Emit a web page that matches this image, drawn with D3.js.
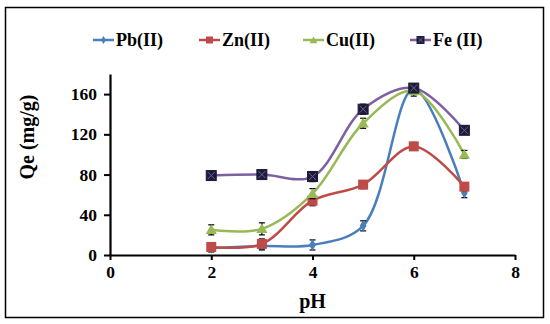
<!DOCTYPE html>
<html>
<head>
<meta charset="utf-8">
<script src="https://cdn.jsdelivr.net/npm/d3@7"></script>
<style>
  body { margin: 0; background: #fff; }
  svg text { font-family: 'Liberation Serif', 'Times New Roman', Times, serif; font-weight: bold; fill: #000; }
</style>
</head>
<body>
<div id="chart"></div>
<script>
// pH values and adsorption capacity per metal ion
const ph = [2, 3, 4, 5, 6, 7];
const pb = [7, 9, 10, 29, 165, 62];
const zn = [8, 11, 54, 70, 108, 68];
const cu = [25, 26, 61, 131, 163, 100];
const fe = [79, 80, 78, 145, 166, 124];
const pbErr = [4, 4, 5, 5, 4, 5];
const znErr = [4, 5, 5, 4, 4, 4];
const cuErr = [5, 6, 5, 5, 5, 4];
const feErr = [4, 4, 5, 5, 4, 4];
const xTicks = [0, 2, 4, 6, 8];
const yTicks = [0, 40, 80, 120, 160];

const series = [
  { name: 'Pb(II)', values: pb, err: pbErr, color: '#4a7ebb', marker: 'diamond' },
  { name: 'Zn(II)', values: zn, err: znErr, color: '#be4b48', marker: 'square' },
  { name: 'Cu(II)', values: cu, err: cuErr, color: '#98b954', marker: 'triangle' },
  { name: 'Fe (II)', values: fe, err: feErr, color: '#7d60a0', marker: 'cross' }
];

const FONT = "'Liberation Serif', 'Times New Roman', Times, serif";
const W = 550, H = 324;
const svg = d3.select('#chart').append('svg').attr('width', W).attr('height', H)
  .attr('font-family', FONT);

// outer frame
svg.append('rect')
  .attr('x', 5.5).attr('y', 7.5).attr('width', 538).attr('height', 310)
  .attr('fill', 'none').attr('stroke', '#000').attr('stroke-width', 1.5);

const x = d3.scaleLinear().domain([0, 8]).range([110, 515]);
const y = d3.scaleLinear().domain([0, 180]).range([255, 74]);

// axes
const xAxis = svg.append('g')
  .attr('transform', `translate(0, ${y(0)})`)
  .call(d3.axisBottom(x).tickValues(xTicks).tickSize(5).tickPadding(6).tickSizeOuter(0));
const yAxis = svg.append('g')
  .attr('transform', `translate(${x(0)}, 0)`)
  .call(d3.axisLeft(y).tickValues(yTicks).tickSize(6).tickPadding(7).tickSizeOuter(0));

[xAxis, yAxis].forEach((g) => {
  g.attr('font-family', FONT).attr('font-size', 17.5);
  g.select('.domain').attr('stroke', '#000').attr('stroke-width', 2.2);
  g.selectAll('.tick line').attr('stroke', '#000').attr('stroke-width', 2);
  g.selectAll('.tick text').attr('fill', '#000').attr('font-weight', 'bold');
});

svg.append('text').attr('x', x(4)).attr('y', 308).attr('text-anchor', 'middle')
  .attr('font-size', 20).attr('font-weight', 'bold').text('pH');
svg.append('text').attr('transform', `translate(34, 137) rotate(-90)`)
  .attr('text-anchor', 'middle').attr('font-size', 20).attr('font-weight', 'bold').text('Qe (mg/g)');

const line = d3.line().curve(d3.curveCatmullRom.alpha(0.5))
  .x((d, i) => x(ph[i])).y((d) => y(d));

function drawMarker(g, type, color, cx, cy, k) {
  const h = 5 * k;
  if (type === 'diamond') {
    g.append('path').attr('d', d3.symbol(d3.symbolDiamond, 40 * k * k)())
      .attr('transform', `translate(${cx}, ${cy})`).attr('fill', color);
  } else if (type === 'square') {
    g.append('rect').attr('x', cx - h).attr('y', cy - h).attr('width', 2 * h).attr('height', 2 * h)
      .attr('fill', color);
  } else if (type === 'triangle') {
    g.append('path').attr('d', d3.symbol(d3.symbolTriangle, 55 * k * k)())
      .attr('transform', `translate(${cx}, ${cy + 1})`).attr('fill', color);
  } else {
    g.append('rect').attr('x', cx - h).attr('y', cy - h).attr('width', 2 * h).attr('height', 2 * h)
      .attr('fill', '#1d1b3a').attr('stroke', '#1d1b3a');
    const c = h * 0.7;
    g.append('path')
      .attr('d', `M${cx - c},${cy - c}L${cx + c},${cy + c}M${cx + c},${cy - c}L${cx - c},${cy + c}`)
      .attr('stroke', '#6f6390').attr('stroke-width', 1);
  }
}

// lines
series.forEach((s) => {
  svg.append('path').datum(s.values)
    .attr('fill', 'none').attr('stroke', s.color).attr('stroke-width', 2.5)
    .attr('d', line);
});

// error bars and markers
series.forEach((s) => {
  const g = svg.append('g');
  s.values.forEach((v, i) => {
    const cx = x(ph[i]);
    const top = y(v + s.err[i]), bot = y(v - s.err[i]);
    g.append('line').attr('x1', cx).attr('x2', cx).attr('y1', top).attr('y2', bot)
      .attr('stroke', '#000').attr('stroke-width', 1.2);
    [top, bot].forEach((yy) => {
      g.append('line').attr('x1', cx - 3).attr('x2', cx + 3).attr('y1', yy).attr('y2', yy)
        .attr('stroke', '#000').attr('stroke-width', 1.2);
    });
    drawMarker(g, s.marker, s.color, cx, y(v), 1);
  });
});

// legend
const legendX = [93, 199, 303, 410];
series.forEach((s, i) => {
  const g = svg.append('g');
  const lx = legendX[i], ly = 40;
  g.append('line').attr('x1', lx).attr('x2', lx + 21).attr('y1', ly).attr('y2', ly)
    .attr('stroke', s.color).attr('stroke-width', 2.5);
  drawMarker(g, s.marker, s.color, lx + 10.5, ly, 0.7);
  g.append('text').attr('x', lx + 23).attr('y', ly + 6).attr('font-size', 18)
    .attr('font-weight', 'bold').text(s.name);
});
</script>
</body>
</html>
